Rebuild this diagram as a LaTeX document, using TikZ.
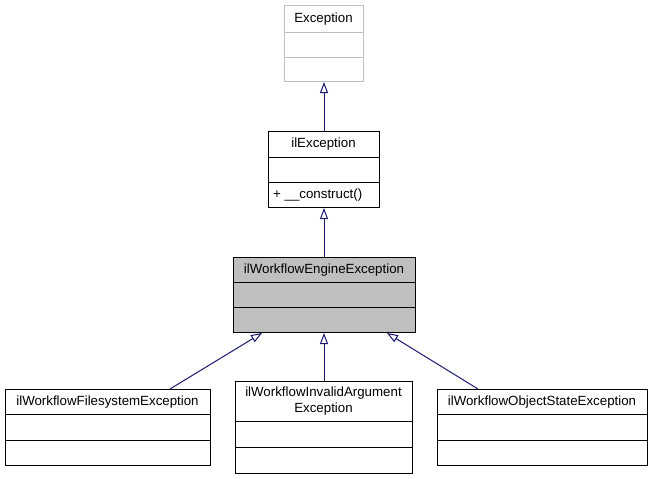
\documentclass[tikz,border=0pt]{standalone}
\usepackage{fontspec}
\setmainfont{Liberation Sans}
\usetikzlibrary{arrows.meta,calc}
\definecolor{edgecol}{RGB}{25,25,112}
\definecolor{grayfill}{RGB}{191,191,191}
\definecolor{lightborder}{RGB}{191,191,191}
\begin{document}
\begin{tikzpicture}[x=1pt,y=-1pt,
  box/.style={draw=black, line width=1pt, rectangle, anchor=north west, inner sep=0pt},
  sep/.style={draw=black, line width=1pt},
  lbl/.style={font=\fontsize{13.3}{16}\selectfont, inner sep=0pt, align=center, text height=9.5pt, text depth=2.5pt},
  inh/.style={draw=edgecol, line width=1pt, -{Triangle[open,length=11pt,width=8pt]}}]
\useasboundingbox (0,0) rectangle (653,479);

% Exception
\node[box, draw=lightborder, minimum width=79pt, minimum height=76pt] (exc) at (284,5) {};
\draw[sep, draw=lightborder] (284,32) -- (363,32);
\draw[sep, draw=lightborder] (284,57) -- (363,57);
\node[lbl] (excT) at (323.5,18.5) {Exception};

% ilException
\node[box, minimum width=111pt, minimum height=76pt] (ilexc) at (268,131) {};
\draw[sep] (268,157) -- (379,157);
\draw[sep] (268,182) -- (379,182);
\node[lbl] (ilexcT) at (323.5,144) {ilException};
\node[lbl, anchor=west] (ilexcM) at (273,194.5) {+ \_\_construct()};

% ilWorkflowEngineException
\node[box, fill=grayfill, minimum width=182pt, minimum height=75pt] (eng) at (233,257) {};
\draw[sep] (233,282) -- (415,282);
\draw[sep] (233,307) -- (415,307);
\node[lbl] (engT) at (324,269.5) {ilWorkflowEngineException};

% ilWorkflowFilesystemException
\node[box, minimum width=205pt, minimum height=76pt] (fs) at (5,389) {};
\draw[sep] (5,414) -- (210,414);
\draw[sep] (5,440) -- (210,440);
\node[lbl] (fsT) at (107.5,401.5) {ilWorkflowFilesystemException};

% ilWorkflowInvalidArgumentException
\node[box, minimum width=177pt, minimum height=92pt] (mid) at (235,381) {};
\draw[sep] (235,421) -- (412,421);
\draw[sep] (235,447) -- (412,447);
\node[lbl, text height=, text depth=] (midT) at (323.5,401) {ilWorkflowInvalidArgument\\Exception};

% ilWorkflowObjectStateException
\node[box, minimum width=210pt, minimum height=76pt] (os) at (437,389) {};
\draw[sep] (437,414) -- (647,414);
\draw[sep] (437,440) -- (647,440);
\node[lbl] (osT) at (542,401.5) {ilWorkflowObjectStateException};

% inheritance edges
\draw[inh] (ilexc.north) -- (exc.south);
\draw[inh] (eng.north -| ilexc.north) -- (ilexc.south);
\draw[inh] (mid.north) -- (mid.north |- eng.south);
\draw[inh] ($(fs.north west)+(165,0)$) -- ($(eng.south west)+(29,0)$);
\draw[inh] ($(os.north west)+(41,0)$) -- ($(eng.south east)+(-29,0)$);
\end{tikzpicture}
\end{document}
